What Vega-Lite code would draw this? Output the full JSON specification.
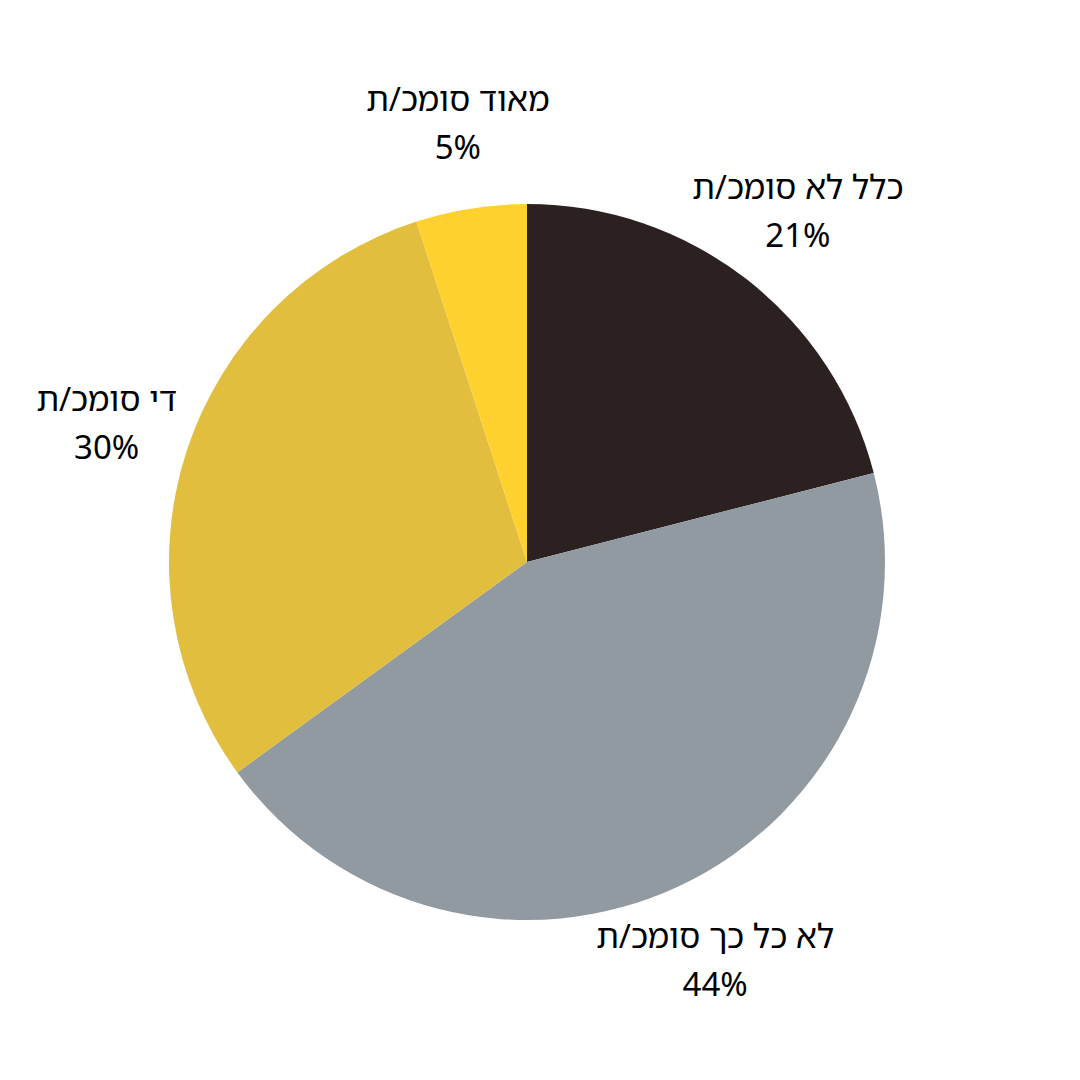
{
  "$schema": "https://vega.github.io/schema/vega-lite/v6.json",
  "width": 1054,
  "height": 1036,
  "autosize": "none",
  "padding": {"left": 0, "top": 44, "right": 26, "bottom": 0},
  "background": "white",
  "data": {
    "values": [
      {"i": 1, "label": "כלל לא סומכ/ת", "share": 0.21},
      {"i": 2, "label": "לא כל כך סומכ/ת", "share": 0.44},
      {"i": 3, "label": "די סומכ/ת", "share": 0.30},
      {"i": 4, "label": "מאוד סומכ/ת", "share": 0.05}
    ]
  },
  "encoding": {
    "theta": {"field": "share", "type": "quantitative", "stack": true},
    "order": {"field": "i", "type": "quantitative"},
    "color": {
      "field": "label",
      "type": "nominal",
      "scale": {
        "domain": ["כלל לא סומכ/ת", "לא כל כך סומכ/ת", "די סומכ/ת", "מאוד סומכ/ת"],
        "range": ["#2b2120", "#919aa1", "#e1be3e", "#ffd12e"]
      },
      "legend": null
    }
  },
  "layer": [
    {
      "mark": {"type": "arc", "outerRadius": 358}
    },
    {
      "mark": {"type": "text", "radius": 442, "dy": -24, "fontSize": 33, "font": "Noto Sans Hebrew, Noto Sans, Liberation Sans, sans-serif", "align": "center", "baseline": "middle"},
      "encoding": {"text": {"field": "label"}, "color": {"value": "#000000"}}
    },
    {
      "mark": {"type": "text", "radius": 442, "dy": 24, "fontSize": 33, "font": "Noto Sans, Liberation Sans, sans-serif", "align": "center", "baseline": "middle"},
      "encoding": {"text": {"field": "share", "format": ".0%"}, "color": {"value": "#000000"}}
    }
  ],
  "config": {"view": {"stroke": null}}
}
